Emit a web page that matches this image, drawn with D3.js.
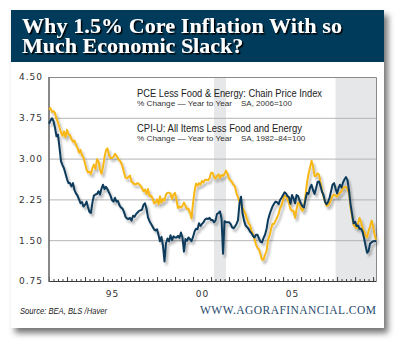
<!DOCTYPE html>
<html>
<head>
<meta charset="utf-8">
<script src="https://cdn.jsdelivr.net/npm/d3@7"></script>
<style>
  html, body { margin: 0; padding: 0; background: #fff; }
  svg { display: block; }
</style>
</head>
<body>
<svg id="chart" width="400" height="346"></svg>
<script>
// monthly year-over-year % change, first value is Jan 1992
const startMonth = '1992-01';

const pceValues = [
    3.64, 3.70, 3.74, 3.69, 3.57, 3.41, 3.44, 3.20, 2.95, 2.88,
    2.82, 2.72, 2.62, 2.55, 2.55, 2.49, 2.55, 2.42, 2.36, 2.32,
    2.25, 2.18, 2.20, 2.12, 2.15, 2.21, 2.11, 2.02, 2.00, 2.20,
    2.32, 2.34, 2.35, 2.40, 2.34, 2.45, 2.52, 2.44, 2.48, 2.44,
    2.38, 2.32, 2.24, 2.21, 2.28, 2.21, 2.22, 2.14, 2.10, 2.08,
    2.02, 1.93, 1.90, 1.89, 1.91,
    1.86, 1.95, 1.93, 1.98, 2.01, 2.04, 2.05, 2.06, 2.15, 2.18,
    2.08, 1.92, 1.85, 1.80, 1.75, 1.70, 1.68, 1.70, 1.59, 1.48,
    1.56, 1.40, 1.11, 1.44, 1.53, 1.48, 1.59, 1.50, 1.57, 1.55,
    1.55, 1.58, 1.54, 1.64, 1.55, 1.29, 1.52, 1.49, 1.55, 1.52,
    1.48, 1.56, 1.66, 1.71, 1.70, 1.81, 1.76, 1.80, 1.83, 1.88,
    1.90, 1.89, 1.91,
    1.87, 1.87, 1.83, 1.86, 1.98, 2.00, 2.03, 1.90, 1.25, 1.85,
    1.83, 1.83, 1.83, 1.80, 1.74, 1.72, 1.75, 1.80, 1.87, 2.18,
    2.30, 2.00, 1.86, 1.77, 1.74, 1.71, 1.66, 1.63, 1.58, 1.55,
    1.60, 1.60, 1.53, 1.47, 1.46, 1.54, 1.60, 1.71, 1.87, 1.97,
    2.05, 2.12, 2.17, 2.21, 2.20, 2.16, 2.24, 2.28, 2.33, 2.38,
    2.36, 2.31, 2.29,
    2.17, 2.33, 2.27, 2.18, 2.33, 2.31, 2.23, 2.17, 2.12, 2.10,
    2.25, 2.37, 2.35, 2.46, 2.52, 2.42, 2.35, 2.45, 2.57, 2.58,
    2.49, 2.39, 2.33, 2.21, 2.16, 2.20, 2.28, 2.40, 2.52, 2.55,
    2.45, 2.36, 2.46, 2.52, 2.47, 2.56, 2.62, 2.66, 2.60, 2.40,
    2.16, 1.98, 1.81, 1.84, 1.76, 1.77, 1.71, 1.71, 1.66, 1.54,
    1.40, 1.27, 1.30, 1.44, 1.46, 1.48, 1.48, 1.49
];

const cpiValues = [
    3.90, 3.93, 3.86, 3.87, 3.84, 3.73, 3.67, 3.57, 3.48, 3.42,
    3.50, 3.39, 3.53, 3.44, 3.43, 3.36, 3.31, 3.33, 3.25, 3.20,
    3.11, 3.16, 3.06, 3.02, 2.91, 2.80, 2.75, 2.76, 2.72, 2.83,
    2.89, 2.81, 2.99, 2.95, 2.80, 2.72, 2.85, 3.03, 3.15, 3.19,
    3.07, 3.01, 3.01, 3.03, 3.09, 3.05, 3.00, 2.97, 2.93, 2.85,
    2.74, 2.65, 2.64, 2.66, 2.69,
    2.58, 2.55, 2.53, 2.53, 2.55, 2.53, 2.50, 2.46, 2.40, 2.43,
    2.35, 2.44, 2.31, 2.32, 2.27, 2.18, 2.19, 2.25, 2.16, 2.31,
    2.19, 2.26, 2.23, 2.34, 2.37, 2.37, 2.36, 2.26, 2.34, 2.37,
    2.23, 2.09, 2.12, 2.10, 2.13, 2.19, 2.13, 2.07, 2.08, 2.00,
    1.90, 2.18, 2.40, 2.54, 2.50, 2.55, 2.52, 2.59, 2.56, 2.61,
    2.61, 2.60, 2.64,
    2.74, 2.74, 2.67, 2.63, 2.68, 2.71, 2.64, 2.70, 2.68, 2.72,
    2.78, 2.72, 2.63, 2.60, 2.57, 2.52, 2.49, 2.36, 2.29, 2.21,
    2.16, 2.10, 2.04, 1.98, 1.89, 1.81, 1.78, 1.67, 1.61, 1.52,
    1.42, 1.36, 1.33, 1.24, 1.14, 1.14, 1.23, 1.30, 1.50, 1.58,
    1.70, 1.80, 1.80, 1.86, 1.92, 1.98, 2.09, 2.14, 2.25, 2.32,
    2.31, 2.25, 2.18,
    2.07, 2.04, 2.04, 1.91, 2.07, 2.19, 2.17, 2.08, 2.04, 2.12,
    2.33, 2.56, 2.72, 2.83, 2.96, 2.86, 2.68, 2.68, 2.73, 2.70,
    2.55, 2.42, 2.30, 2.21, 2.13, 2.14, 2.17, 2.25, 2.31, 2.34,
    2.32, 2.30, 2.34, 2.37, 2.40, 2.47, 2.47, 2.48, 2.44, 2.35,
    2.10, 1.94, 1.78, 1.75, 1.72, 1.81, 1.91, 1.83, 1.73, 1.66,
    1.59, 1.55, 1.67, 1.75, 1.86, 1.76, 1.60, 1.51
];

const recessions = [['2001-03', '2001-11'], ['2007-12', '2010-03']];
const yTicks = [0.75, 1.50, 2.25, 3.00, 3.75, 4.50];
const yearLabels = ['1995-07', '2000-07', '2005-07'];
const titleLines = ['Why 1.5% Core Inflation With so', 'Much Economic Slack?'];
const seriesNames = ['PCE Less Food & Energy: Chain Price Index', 'CPI-U: All Items Less Food and Energy'];
const seriesNotes = ['SA, 2006=100', 'SA, 1982\u201384=100'];
const changeNote = '% Change \u2014 Year to Year';
const sourceText = 'Source: BEA, BLS /Haver';
const siteText = 'WWW.AGORAFINANCIAL.COM';

const COLOR_HEADER = '#003b5c';
const COLOR_PCE = '#0d3a5b';
const COLOR_CPI = '#f7b718';
const COLOR_GRID = '#b4b4b4';
const COLOR_SHADE = '#e6e7e9';

const PLOT = { left: 49, right: 376, top: 77, bottom: 281 };

const parseMonth = d3.timeParse('%Y-%m');
const start = parseMonth(startMonth);

const toSeries = values => values.map((v, i) => ({ date: d3.timeMonth.offset(start, i), value: v }));
const pce = toSeries(pceValues);
const cpi = toSeries(cpiValues);

const svg = d3.select('#chart');
const defs = svg.append('defs');

function shadow(id, dx, dy, blur, opacity) {
    defs.append('filter')
        .attr('id', id)
        .attr('x', '-10%').attr('y', '-10%')
        .attr('width', '130%').attr('height', '140%')
        .append('feDropShadow')
        .attr('dx', dx).attr('dy', dy)
        .attr('stdDeviation', blur)
        .attr('flood-color', '#000')
        .attr('flood-opacity', opacity);
}
shadow('cardShadow', 4, 5, 3, 0.55);
shadow('lineShadow', 2, 3, 1.2, 0.28);
shadow('titleShadow', 1.5, 1.5, 0.4, 1);

// card + header band
svg.append('rect')
    .attr('x', 11).attr('y', 10)
    .attr('width', 373).attr('height', 318)
    .attr('fill', '#fff')
    .attr('filter', 'url(#cardShadow)');

svg.append('rect')
    .attr('x', 11).attr('y', 10)
    .attr('width', 373).attr('height', 52)
    .attr('fill', COLOR_HEADER);

svg.append('g')
    .attr('filter', 'url(#titleShadow)')
    .selectAll('text')
    .data(titleLines)
    .join('text')
    .attr('x', 22)
    .attr('y', (d, i) => 33 + i * 20)
    .attr('fill', '#fff')
    .attr('font-family', '"Liberation Serif", "DejaVu Serif", serif')
    .attr('font-weight', 'bold')
    .attr('font-size', 22)
    .attr('textLength', (d, i) => i === 0 ? 320 : null)
    .attr('lengthAdjust', 'spacing')
    .text(d => d);

// scales
const x = d3.scaleTime()
    .domain([start, d3.timeMonth.offset(start, pceValues.length - 1)])
    .range([PLOT.left, PLOT.right]);

const y = d3.scaleLinear()
    .domain([0.75, 4.50])
    .range([PLOT.bottom, PLOT.top]);

const plot = svg.append('g');

// recession shading
plot.selectAll('rect.shade')
    .data(recessions)
    .join('rect')
    .attr('class', 'shade')
    .attr('x', d => x(parseMonth(d[0])))
    .attr('y', PLOT.top)
    .attr('width', d => x(parseMonth(d[1])) - x(parseMonth(d[0])))
    .attr('height', PLOT.bottom - PLOT.top)
    .attr('fill', COLOR_SHADE);

// gridlines
const grid = plot.append('g')
    .attr('transform', `translate(${PLOT.left},0)`)
    .call(d3.axisLeft(y).tickValues(yTicks.slice(1, -1)).tickSize(-(PLOT.right - PLOT.left)).tickFormat(''));
grid.select('.domain').remove();
grid.selectAll('line').attr('stroke', COLOR_GRID).attr('stroke-width', 1);

// frame top / right
plot.append('path')
    .attr('d', `M${PLOT.left},${PLOT.top + 0.5}H${PLOT.right + 0.5}V${PLOT.bottom}`)
    .attr('fill', 'none')
    .attr('stroke', '#8a8a8a')
    .attr('stroke-width', 1);

// y labels
const yAxis = plot.append('g')
    .attr('transform', `translate(${PLOT.left},0)`)
    .call(d3.axisLeft(y).tickValues(yTicks).tickSize(0).tickPadding(6).tickFormat(d3.format('.2f')));
yAxis.select('.domain').remove();
yAxis.selectAll('text')
    .attr('font-family', '"DejaVu Sans", Verdana, sans-serif')
    .attr('font-size', 9)
    .attr('letter-spacing', 1)
    .attr('fill', '#333');

// quarter and year ticks on the bottom axis
const qTicks = plot.append('g')
    .attr('transform', `translate(0,${PLOT.bottom})`)
    .call(d3.axisBottom(x).ticks(d3.timeMonth.every(3)).tickSizeInner(-2).tickSizeOuter(0).tickFormat(''));
qTicks.select('.domain').remove();
qTicks.selectAll('line').attr('stroke', '#444');

const yrTicks = plot.append('g')
    .attr('transform', `translate(0,${PLOT.bottom})`)
    .call(d3.axisBottom(x).ticks(d3.timeYear.every(1)).tickSizeInner(-4).tickSizeOuter(0).tickFormat(''));
yrTicks.select('.domain').remove();
yrTicks.selectAll('line').attr('stroke', '#444');

const xLabels = plot.append('g')
    .attr('transform', `translate(0,${PLOT.bottom})`)
    .call(d3.axisBottom(x).tickValues(yearLabels.map(parseMonth)).tickSize(0).tickFormat(d3.timeFormat('%y')));
xLabels.select('.domain').remove();
xLabels.selectAll('text')
    .attr('y', 16)
    .attr('dy', 0)
    .attr('font-family', '"DejaVu Sans", Verdana, sans-serif')
    .attr('font-size', 9)
    .attr('letter-spacing', 1)
    .attr('fill', '#333');

// axis lines
plot.append('line')
    .attr('x1', PLOT.left).attr('x2', PLOT.right + 0.5)
    .attr('y1', PLOT.bottom + 0.5).attr('y2', PLOT.bottom + 0.5)
    .attr('stroke', '#3a3a3a');
plot.append('line')
    .attr('x1', PLOT.left).attr('x2', PLOT.left)
    .attr('y1', PLOT.top).attr('y2', PLOT.bottom + 1)
    .attr('stroke', '#6a6a6a')
    .attr('stroke-width', 1.6);

// series lines
const line = d3.line()
    .x(d => x(d.date))
    .y(d => y(d.value));

const lines = plot.append('g').attr('filter', 'url(#lineShadow)');
lines.append('path')
    .datum(cpi)
    .attr('d', line)
    .attr('fill', 'none')
    .attr('stroke', COLOR_CPI)
    .attr('stroke-width', 2)
    .attr('stroke-linejoin', 'round');
lines.append('path')
    .datum(pce)
    .attr('d', line)
    .attr('fill', 'none')
    .attr('stroke', COLOR_PCE)
    .attr('stroke-width', 2)
    .attr('stroke-linejoin', 'round');

// legend
const legend = svg.append('g');
const legendColors = [COLOR_PCE, '#f9c844'];
seriesNames.forEach((name, i) => {
    const top = 93 + i * 35;
    legend.append('line')
        .attr('x1', 95).attr('x2', 130)
        .attr('y1', top).attr('y2', top)
        .attr('stroke', legendColors[i])
        .attr('stroke-width', 2)
        .attr('filter', 'url(#lineShadow)');
    legend.append('text')
        .attr('x', 137).attr('y', top + 4)
        .attr('font-family', '"Liberation Sans", Arial, sans-serif')
        .attr('font-size', 10.5)
        .attr('fill', '#222')
        .attr('textLength', i === 0 ? 185 : 165)
        .attr('lengthAdjust', 'spacingAndGlyphs')
        .text(name);
    legend.append('text')
        .attr('x', 137).attr('y', top + 13)
        .attr('font-family', '"Liberation Sans", Arial, sans-serif')
        .attr('font-size', 8)
        .attr('fill', '#333')
        .attr('textLength', 95)
        .attr('lengthAdjust', 'spacingAndGlyphs')
        .text(changeNote);
    legend.append('text')
        .attr('x', 241).attr('y', top + 13)
        .attr('font-family', '"Liberation Sans", Arial, sans-serif')
        .attr('font-size', 8)
        .attr('fill', '#333')
        .text(seriesNotes[i]);
});

// footer
svg.append('text')
    .attr('x', 20).attr('y', 314)
    .attr('font-family', '"Liberation Sans", Arial, sans-serif')
    .attr('font-style', 'italic')
    .attr('font-size', 9)
    .attr('fill', '#222')
    .attr('textLength', 87)
    .attr('lengthAdjust', 'spacingAndGlyphs')
    .text(sourceText);

svg.append('text')
    .attr('x', 200).attr('y', 314)
    .attr('font-family', '"Liberation Serif", "DejaVu Serif", serif')
    .attr('font-size', 11.5)
    .attr('fill', '#1f4b6c')
    .attr('textLength', 176)
    .attr('lengthAdjust', 'spacing')
    .text(siteText);
</script>
</body>
</html>
